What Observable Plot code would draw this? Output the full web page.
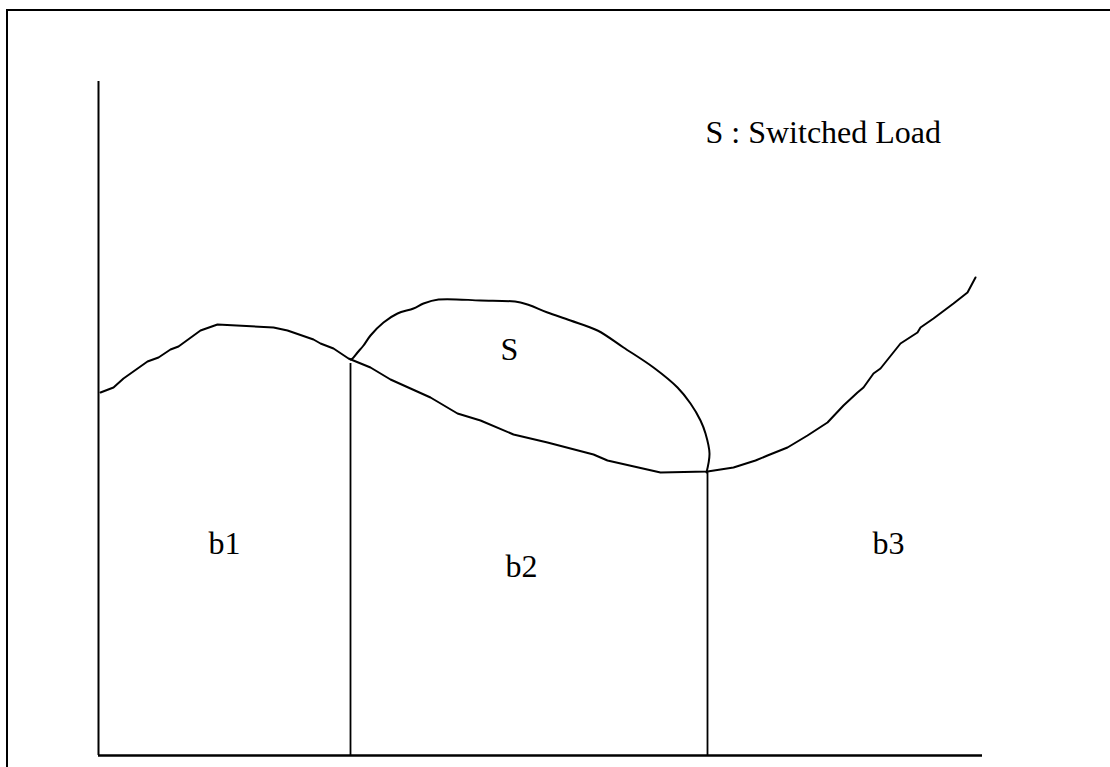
<!DOCTYPE html>
<html>
<head>
<meta charset="utf-8">
<script src="https://cdn.jsdelivr.net/npm/d3@7"></script>
<script src="https://cdn.jsdelivr.net/npm/@observablehq/plot@0.6"></script>
<style>
  html, body { margin: 0; padding: 0; background: #fff; overflow: hidden; }
  #wrap { position: relative; width: 1110px; height: 767px; }
  #chart { position: absolute; left: 0; top: 0; }
  #chart svg text { font-family: "Liberation Serif", "Times New Roman", Times, "DejaVu Serif", serif !important; }
  #border { position: absolute; left: 6px; top: 9px; width: 2000px; height: 2000px;
            border-top: 2.5px solid #000; border-left: 2px solid #000; pointer-events: none; }
</style>
</head>
<body>
<div id="wrap"><div id="chart"></div><div id="border"></div></div>
<script>
// Base load curve (distance along time axis, load above baseline)
const baseX = [2,15,25,49,60,72,80,102,119,175,189,215,222,235,250,272,292,312,332,359,382,415,449,495,509,562,609,635,657,669,689,709,729,745,759,765,775,782,802,819,822,835,855,869,877];
const baseY = [363,368,377,394,398,406,409,425,431,428,425,416,412,407,397,388,376,367,358,342,335,321,313,301,295,283,284,288,295,300,308,320,333,350,363,368,382,387,412,423,428,437,452,463,478];

// Switched load "S" curve
const switchedX = [252,254,259,265,272,285,299,315,325,340,382,422,449,472,499,525,555,579,592,602,607,611,608];
const switchedY = [396,397,403,410,420,433,442,447,452,456,455,453,443,435,425,408,388,368,352,335,322,302,283];

// Block boundaries and their heights on the curve
const boundaryX = [252, 609];
const boundaryTop = [392, 283];

// Axis extents
const axisTop = 674;
const axisEnd = 884;

// Labels
const labelText = ["S : Switched Load", "S", "b1", "b2", "b3"];
const labelX = [607, 402, 110, 407, 774];
const labelY = [613, 396, 202, 179, 202];

const idx = (a) => d3.range(a.length);

const chart = Plot.plot({
  width: 1110,
  height: 767,
  marginTop: 0, marginRight: 0, marginBottom: 0, marginLeft: 0,
  x: {domain: [-98, 1012], axis: null},
  y: {domain: [-12, 755], axis: null},
  style: {background: "transparent", fontFamily: "'Liberation Serif', serif"},
  marks: [
    Plot.ruleX([0], {y1: 0, y2: axisTop, stroke: "#000", strokeWidth: 2}),
    Plot.ruleY([0], {x1: 0, x2: axisEnd, stroke: "#000", strokeWidth: 2.5}),
    Plot.ruleX(idx(boundaryX), {x: i => boundaryX[i], y1: 0, y2: i => boundaryTop[i], stroke: "#000", strokeWidth: 1.8}),
    Plot.line(idx(baseX), {x: i => baseX[i], y: i => baseY[i], stroke: "#000", strokeWidth: 2, curve: "linear"}),
    Plot.line(idx(switchedX), {x: i => switchedX[i], y: i => switchedY[i], stroke: "#000", strokeWidth: 2, curve: "catmull-rom"}),
    Plot.text(idx(labelText), {x: i => labelX[i], y: i => labelY[i], text: i => labelText[i],
      textAnchor: "start", lineAnchor: "bottom", fontSize: 32, fontFamily: "'Liberation Serif', serif", fill: "#000"})
  ]
});
document.getElementById("chart").appendChild(chart);
</script>
</body>
</html>
